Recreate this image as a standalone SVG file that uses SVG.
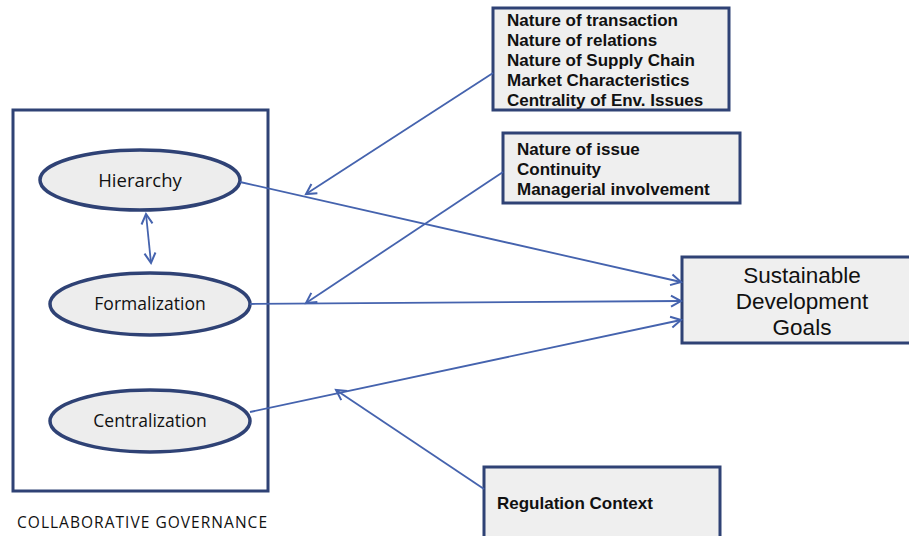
<svg xmlns="http://www.w3.org/2000/svg" width="909" height="536" viewBox="0 0 909 536">
<defs>
<marker id="arr" markerUnits="userSpaceOnUse" markerWidth="14" markerHeight="14" refX="11" refY="6" orient="auto-start-reverse" viewBox="0 0 14 12">
<path d="M1,0.5 L11,6 L1,11.5" fill="none" stroke="#4563AE" stroke-width="2"/>
</marker>
</defs>
<style>
.frame{fill:#ffffff;stroke:#2F4275;stroke-width:3}
.box{fill:#EFEFEF;stroke:#2F4275;stroke-width:3}
.ell{fill:#EDEDED;stroke:#2F4275;stroke-width:3.5}
.ln{stroke:#4563AE;stroke-width:1.8;fill:none}
.lbl{font-family:"Open Sans",Lato,sans-serif;font-size:17.5px;fill:#111}
.bl{font-family:"Liberation Sans",Arial,sans-serif;font-size:17px;font-weight:bold;fill:#111}
.big{font-family:"Liberation Sans",Arial,sans-serif;font-size:22.5px;fill:#111}
</style>
<rect width="909" height="536" fill="#ffffff"/>
<g id="governance">
<rect class="frame" x="13" y="110" width="255" height="381"/>
<text class="lbl" x="17" y="528" textLength="250" style="font-size:15.5px">COLLABORATIVE GOVERNANCE</text>
</g>
<g id="hierarchy">
<ellipse class="ell" cx="140" cy="180" rx="100" ry="30"/>
<text class="lbl" x="140" y="187" text-anchor="middle" style="font-size:18.5px">Hierarchy</text>
</g>
<g id="formalization">
<ellipse class="ell" cx="150" cy="304" rx="100" ry="31"/>
<text class="lbl" x="150" y="310" text-anchor="middle">Formalization</text>
</g>
<g id="centralization">
<ellipse class="ell" cx="150" cy="421" rx="100" ry="31"/>
<text class="lbl" x="150" y="427" text-anchor="middle">Centralization</text>
</g>
<g id="factors1">
<rect class="box" x="493" y="8" width="236" height="102"/>
<text class="bl" x="507" y="26">Nature of transaction</text>
<text class="bl" x="507" y="46">Nature of relations</text>
<text class="bl" x="507" y="66">Nature of Supply Chain</text>
<text class="bl" x="507" y="86">Market Characteristics</text>
<text class="bl" x="507" y="106">Centrality of Env. Issues</text>
</g>
<g id="factors2">
<rect class="box" x="503" y="133" width="237" height="70"/>
<text class="bl" x="517" y="155">Nature of issue</text>
<text class="bl" x="517" y="175">Continuity</text>
<text class="bl" x="517" y="195">Managerial involvement</text>
</g>
<g id="sdg">
<rect class="box" x="682" y="257" width="230" height="86"/>
<text class="big" x="802" y="283" text-anchor="middle">Sustainable</text>
<text class="big" x="802" y="309" text-anchor="middle">Development</text>
<text class="big" x="802" y="335" text-anchor="middle">Goals</text>
</g>
<g id="regulation">
<rect class="box" x="484" y="467" width="236" height="75"/>
<text class="bl" x="497" y="509">Regulation Context</text>
</g>
<g id="connectors">
<line class="ln" x1="146" y1="214" x2="151" y2="263" marker-start="url(#arr)" marker-end="url(#arr)"/>
<line class="ln" x1="240" y1="182" x2="681" y2="282" marker-end="url(#arr)"/>
<line class="ln" x1="250" y1="304" x2="681" y2="301" marker-end="url(#arr)"/>
<line class="ln" x1="250" y1="412" x2="681" y2="320" marker-end="url(#arr)"/>
<line class="ln" x1="493" y1="73" x2="306" y2="194" marker-end="url(#arr)"/>
<line class="ln" x1="503" y1="172" x2="306" y2="303" marker-end="url(#arr)"/>
<line class="ln" x1="484" y1="489" x2="336" y2="390" marker-end="url(#arr)"/>
</g>
</svg>
